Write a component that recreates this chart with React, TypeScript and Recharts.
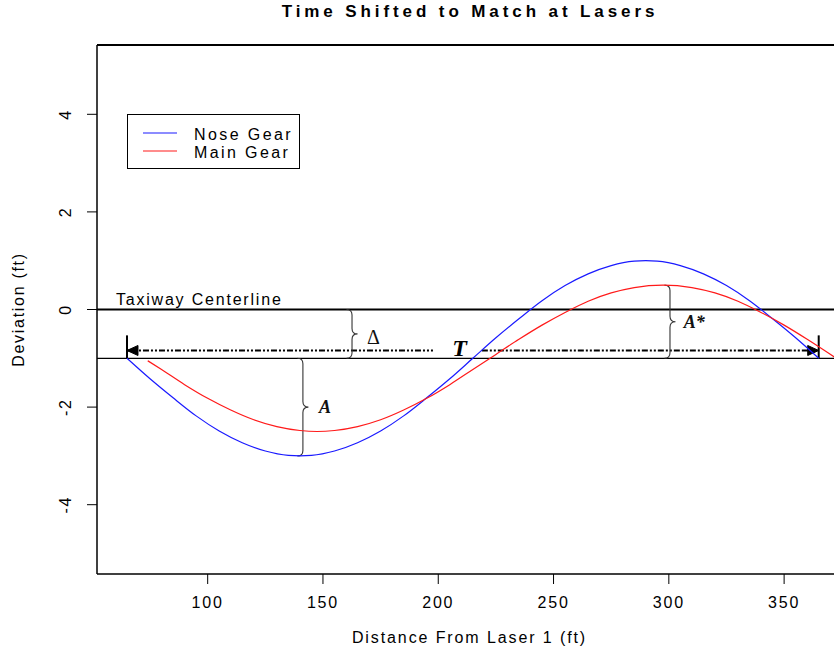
import React from 'react';
import {
  LineChart,
  Line,
  XAxis,
  YAxis,
  ReferenceLine,
  ReferenceDot,
  Legend,
  Customized,
} from 'recharts';

// ---------- data ----------
const xTicks = [100, 150, 200, 250, 300, 350];
const yTicks = [-4, -2, 0, 2, 4];
const xDomain = [52, 375.1];
const yDomain = [-5.42, 5.42];

const noseX = [65, 75, 85, 95, 105, 115, 125, 135, 140, 145, 155, 165, 175, 185, 195, 205, 215, 225, 235, 245, 255, 265, 275, 285, 290, 295, 305, 315, 325, 335, 345, 355, 365];
const noseY = [-1.0, -1.42, -1.81, -2.18, -2.49, -2.73, -2.9, -2.99, -3.0, -2.99, -2.9, -2.73, -2.49, -2.18, -1.81, -1.42, -1.0, -0.58, -0.19, 0.18, 0.49, 0.73, 0.9, 0.99, 1.0, 0.99, 0.9, 0.73, 0.49, 0.18, -0.19, -0.58, -1.0];

const mainX = [74, 80, 90, 100, 110, 120, 130, 140, 147.5, 155, 165, 175, 185, 195, 205, 215, 225, 235, 245, 255, 265, 275, 285, 297.5, 310, 320, 330, 340, 350, 360, 372];
const mainY = [-1.05, -1.23, -1.54, -1.82, -2.06, -2.26, -2.4, -2.48, -2.5, -2.48, -2.4, -2.26, -2.06, -1.82, -1.54, -1.23, -0.92, -0.61, -0.32, -0.06, 0.17, 0.34, 0.45, 0.5, 0.45, 0.34, 0.17, -0.06, -0.32, -0.61, -0.98];

const seriesNames = ['Nose Gear', 'Main Gear'];
const seriesColors = ['#1a1aff', '#ff1a1a'];

// annotations (data coordinates)
const centerlineY = 0;
const offsetLineY = -1;
const centerlineLabel = { x: 60.2, y: 0.09, text: 'Taxiway Centerline' };
const periodStart = 65;
const periodEnd = 365;
const periodArrowY = -0.84;
const periodBarTop = -0.53;
const periodGap = [197.7, 218.9];
const periodLabel = { x: 209.2, y: -0.79, text: 'T' };
const braces = [
  { x: 162.6, top: 0, bottom: -1 },
  { x: 141.3, top: -1, bottom: -3 },
  { x: 300.5, top: 0.5, bottom: -1 },
];
const braceLabels = [
  { x: 169.1, y: -0.56, text: 'Δ', italic: false },
  { x: 148.3, y: -1.99, text: 'A', italic: true },
  { x: 306.5, y: -0.25, text: 'A*', italic: true },
];

const noseData = noseX.map((x, i) => ({ x, y: noseY[i] }));
const mainData = mainX.map((x, i) => ({ x, y: mainY[i] }));

const SANS = '"Liberation Sans", Arial, sans-serif';
const SERIF = '"Liberation Serif", "Times New Roman", serif';

// ---------- render helpers ----------
const XTick = (p: any) => (
  <text
    x={p.x}
    y={p.y}
    dy="0.72em"
    textAnchor="middle"
    fontSize={16}
    fontFamily={SANS}
    letterSpacing={1.8}
    fill="#000"
  >
    {p.payload.value}
  </text>
);

const YTick = (p: any) => (
  <text
    x={p.x}
    y={p.y}
    transform={`rotate(-90 ${p.x} ${p.y})`}
    textAnchor="middle"
    fontSize={16}
    fontFamily={SANS}
    letterSpacing={1.8}
    fill="#000"
  >
    {p.payload.value}
  </text>
);

const XLabel = (p: any) => {
  const vb = p.viewBox || {};
  return (
    <text
      x={vb.x + vb.width / 2}
      y={vb.y + 69}
      textAnchor="middle"
      fontSize={16}
      fontFamily={SANS}
      letterSpacing={1.9}
      fill="#000"
    >
      Distance From Laser 1 (ft)
    </text>
  );
};

const YLabel = (p: any) => {
  const vb = p.viewBox || {};
  const cx = 24;
  const cy = vb.y + vb.height / 2;
  return (
    <text
      x={cx}
      y={cy}
      transform={`rotate(-90 ${cx} ${cy})`}
      textAnchor="middle"
      fontSize={16}
      fontFamily={SANS}
      letterSpacing={1.7}
      fill="#000"
    >
      Deviation (ft)
    </text>
  );
};

const Title = () => (
  <text
    x={470}
    y={17}
    textAnchor="middle"
    fontSize={17}
    fontWeight="bold"
    fontFamily={SANS}
    letterSpacing={3.9}
    fill="#000"
  >
    Time Shifted to Match at Lasers
  </text>
);

const BraceShape = (p: any) => {
  const sx = p.x1;
  const y1 = Math.min(p.y1, p.y2);
  const y2 = Math.max(p.y1, p.y2);
  const ym = (y1 + y2) / 2;
  const w = 5.5;
  const d = `M${sx - w},${y1} Q${sx},${y1} ${sx},${y1 + w} L${sx},${ym - w} Q${sx},${ym} ${sx + w},${ym} Q${sx},${ym} ${sx},${ym + w} L${sx},${y2 - w} Q${sx},${y2} ${sx - w},${y2}`;
  return <path d={d} fill="none" stroke="#333" strokeWidth={1.1} />;
};

const makeArrowShape = (tipAtStart: boolean) => (p: any) => {
  const tipX = tipAtStart ? p.x1 : p.x2;
  const dir = tipAtStart ? 1 : -1;
  const y = p.y1;
  const head = `M${tipX},${y} L${tipX + dir * 11},${y - 5} L${tipX + dir * 11},${y + 5} Z`;
  return (
    <g>
      <line
        x1={p.x1}
        y1={p.y1}
        x2={p.x2}
        y2={p.y2}
        stroke="#000"
        strokeWidth={2.2}
        strokeDasharray="6 2 2 2 2 2"
      />
      <path d={head} fill="#000" stroke="#000" strokeWidth={1} />
    </g>
  );
};

const makeTextShape = (text: string, opts: any) => (p: any) => (
  <text
    x={p.cx}
    y={p.cy}
    dominantBaseline={opts.baseline || 'central'}
    textAnchor={opts.anchor || 'start'}
    fontSize={opts.size}
    fontFamily={opts.family}
    fontWeight={opts.weight || 'normal'}
    fontStyle={opts.italic ? 'italic' : 'normal'}
    letterSpacing={opts.spacing || 0}
    fill={opts.fill || '#000'}
  >
    {text}
  </text>
);

const LegendBox = () => (
  <svg width={176} height={58} style={{ display: 'block' }}>
    <rect x={0.5} y={0.5} width={172} height={54} fill="#fff" stroke="#000" strokeWidth={1} />
    {seriesNames.map((name, i) => (
      <g key={name}>
        <line x1={16} x2={50} y1={19 + i * 18} y2={19 + i * 18} stroke={seriesColors[i]} strokeWidth={1.2} />
        <text
          x={67}
          y={26 + i * 17.5}
          fontSize={16}
          fontFamily={SANS}
          letterSpacing={2.4}
          fill="#000"
        >
          {name}
        </text>
      </g>
    ))}
  </svg>
);

export default function App() {
  return (
    <div
      style={{
        position: 'absolute',
        left: 0,
        top: 0,
        width: 834,
        height: 654,
        overflow: 'hidden',
        background: '#fff',
      }}
    >
      <LineChart
        width={860}
        height={654}
        margin={{ top: 45, right: 18, bottom: 0, left: 0 }}
        style={{ background: '#fff' }}
      >
        <XAxis
          type="number"
          dataKey="x"
          domain={xDomain}
          ticks={xTicks}
          allowDataOverflow
          height={80}
          tickSize={10}
          tickMargin={12}
          tick={<XTick />}
          axisLine={{ stroke: '#000', strokeWidth: 1.5 }}
          tickLine={{ stroke: '#000', strokeWidth: 1 }}
          label={<XLabel />}
        />
        <YAxis
          type="number"
          dataKey="y"
          domain={yDomain}
          ticks={yTicks}
          allowDataOverflow
          width={97}
          tickSize={10}
          tickMargin={16}
          tick={<YTick />}
          axisLine={{ stroke: '#000', strokeWidth: 1.5 }}
          tickLine={{ stroke: '#000', strokeWidth: 1 }}
          label={<YLabel />}
        />
        {/* top border of plot box */}
        <ReferenceLine y={yDomain[1]} stroke="#000" strokeWidth={2} />
        {/* taxiway centerline and offset line */}
        <ReferenceLine y={centerlineY} stroke="#000" strokeWidth={2} />
        <ReferenceLine y={offsetLineY} stroke="#000" strokeWidth={1.2} />
        <ReferenceDot
          x={centerlineLabel.x}
          y={centerlineLabel.y}
          r={0}
          shape={makeTextShape(centerlineLabel.text, { size: 16, family: SANS, spacing: 1.8, baseline: 'alphabetic' })}
        />
        {/* period arrow */}
        <ReferenceLine
          segment={[{ x: periodStart, y: periodArrowY }, { x: periodGap[0], y: periodArrowY }]}
          shape={makeArrowShape(true)}
        />
        <ReferenceLine
          segment={[{ x: periodGap[1], y: periodArrowY }, { x: periodEnd, y: periodArrowY }]}
          shape={makeArrowShape(false)}
        />
        <ReferenceLine
          segment={[{ x: periodStart, y: periodBarTop }, { x: periodStart, y: offsetLineY }]}
          stroke="#000"
          strokeWidth={2}
        />
        <ReferenceLine
          segment={[{ x: periodEnd, y: periodBarTop }, { x: periodEnd, y: offsetLineY }]}
          stroke="#000"
          strokeWidth={2}
        />
        <ReferenceDot
          x={periodLabel.x}
          y={periodLabel.y}
          r={0}
          shape={makeTextShape(periodLabel.text, { size: 24, family: SERIF, weight: 'bold', italic: true, anchor: 'middle' })}
        />
        {/* braces */}
        {braces.map((b, i) => (
          <ReferenceLine
            key={`brace-${i}`}
            segment={[{ x: b.x, y: b.top }, { x: b.x, y: b.bottom }]}
            shape={BraceShape}
          />
        ))}
        {braceLabels.map((l, i) => (
          <ReferenceDot
            key={`bl-${i}`}
            x={l.x}
            y={l.y}
            r={0}
            shape={makeTextShape(l.text, {
              size: l.italic ? 18 : 20,
              family: SERIF,
              weight: l.italic ? 'bold' : 'normal',
              italic: l.italic,
              fill: '#111',
            })}
          />
        ))}
        <Line
          data={noseData}
          dataKey="y"
          name={seriesNames[0]}
          type="monotone"
          stroke={seriesColors[0]}
          strokeWidth={1.2}
          dot={false}
          activeDot={false}
          isAnimationActive={false}
        />
        <Line
          data={mainData}
          dataKey="y"
          name={seriesNames[1]}
          type="monotone"
          stroke={seriesColors[1]}
          strokeWidth={1.2}
          dot={false}
          activeDot={false}
          isAnimationActive={false}
        />
        <Legend
          layout="vertical"
          align="center"
          verticalAlign="middle"
          content={<LegendBox />}
          wrapperStyle={{ position: 'absolute', left: 127, top: 114, width: 176, height: 58 }}
        />
        <Customized component={<Title />} />
      </LineChart>
    </div>
  );
}
